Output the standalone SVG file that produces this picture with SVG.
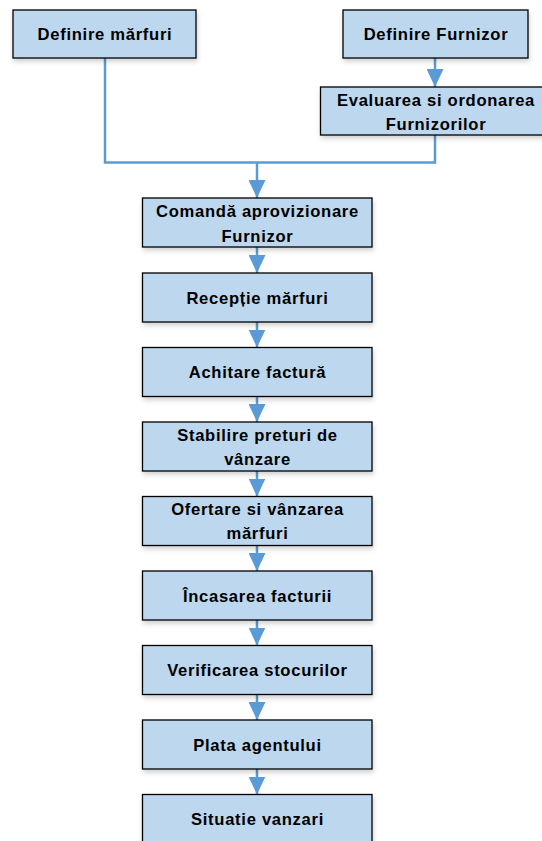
<svg xmlns="http://www.w3.org/2000/svg" width="542" height="841" viewBox="0 0 542 841">
<style>
.box{fill:#BDD7EE;stroke:#000;stroke-width:1.3;filter:url(#sh)}
.t{font-family:"Liberation Sans",Arial,sans-serif;font-weight:bold;font-size:16.6px;letter-spacing:0.7px;fill:#000;text-anchor:middle}
.c{fill:none;stroke:#5B9BD5;stroke-width:2.5}
.a{marker-end:url(#ah)}
</style>
<defs>
<filter id="sh" x="-10%" y="-20%" width="120%" height="150%">
<feDropShadow dx="1" dy="3" stdDeviation="2.5" flood-color="#000" flood-opacity="0.18"/>
</filter>
<marker id="ah" viewBox="0 0 18 17" refX="18" refY="8.5" markerWidth="18" markerHeight="17" markerUnits="userSpaceOnUse" orient="auto">
<path d="M0,0 L18,8.5 L0,17 z" fill="#5B9BD5"/>
</marker>
</defs>
<rect width="542" height="841" fill="#fff"/>
<g id="connectors">
<path class="c" d="M105,58 V162.5 H435 V135"/>
<path class="c a" d="M435,58 V87"/>
<path class="c a" d="M257,162.5 V198"/>
<path class="c a" d="M257,247 V273"/>
<path class="c a" d="M257,322 V347.5"/>
<path class="c a" d="M257,396.5 V422"/>
<path class="c a" d="M257,471 V496.5"/>
<path class="c a" d="M257,545.5 V571"/>
<path class="c a" d="M257,620 V645.5"/>
<path class="c a" d="M257,694.5 V720"/>
<path class="c a" d="M257,769 V794.5"/>
</g>
<g id="n-definire-marfuri"><rect class="box" x="13" y="10" width="183" height="48"/><text class="t" x="105" y="40">Definire mărfuri</text></g>
<g id="n-definire-furnizor"><rect class="box" x="343" y="10" width="185" height="48"/><text class="t" x="436" y="40">Definire Furnizor</text></g>
<g id="n-evaluarea"><rect class="box" x="320.5" y="87" width="229.5" height="48"/><text class="t" x="436" y="106">Evaluarea si ordonarea</text><text class="t" x="436" y="130">Furnizorilor</text></g>
<g id="n-comanda"><rect class="box" x="142.5" y="198" width="229.5" height="49"/><text class="t" x="257.5" y="216.5">Comandă aprovizionare</text><text class="t" x="257.5" y="241.5">Furnizor</text></g>
<g id="n-receptie"><rect class="box" x="142.5" y="273" width="229.5" height="49"/><text class="t" x="257.5" y="303.5">Recepție mărfuri</text></g>
<g id="n-achitare"><rect class="box" x="142.5" y="347.5" width="229.5" height="49"/><text class="t" x="257.5" y="378">Achitare factură</text></g>
<g id="n-stabilire"><rect class="box" x="142.5" y="422" width="229.5" height="49"/><text class="t" x="257.5" y="441">Stabilire preturi de</text><text class="t" x="257.5" y="465">vânzare</text></g>
<g id="n-ofertare"><rect class="box" x="142.5" y="496.5" width="229.5" height="49"/><text class="t" x="257.5" y="515">Ofertare si vânzarea</text><text class="t" x="257.5" y="539">mărfuri</text></g>
<g id="n-incasarea"><rect class="box" x="142.5" y="571" width="229.5" height="49"/><text class="t" x="257.5" y="601.5">Încasarea facturii</text></g>
<g id="n-verificarea"><rect class="box" x="142.5" y="645.5" width="229.5" height="49"/><text class="t" x="257.5" y="676">Verificarea stocurilor</text></g>
<g id="n-plata"><rect class="box" x="142.5" y="720" width="229.5" height="49"/><text class="t" x="257.5" y="750.5">Plata agentului</text></g>
<g id="n-situatie"><rect class="box" x="142.5" y="794.5" width="229.5" height="49"/><text class="t" x="257.5" y="825">Situatie vanzari</text></g>
</svg>
